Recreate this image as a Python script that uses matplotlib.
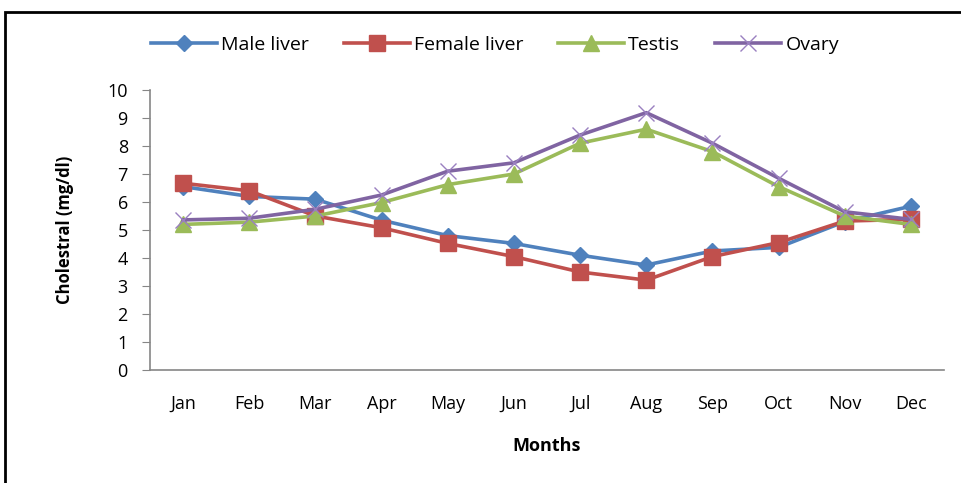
import matplotlib.pyplot as plt
from matplotlib.patches import Rectangle

# Données
months = ["Jan", "Feb", "Mar", "Apr", "May", "Jun", "Jul", "Aug", "Sep", "Oct", "Nov", "Dec"]
male_liver = [6.55, 6.2, 6.1, 5.35, 4.8, 4.52, 4.1, 3.75, 4.25, 4.38, 5.3, 5.85]
female_liver = [6.67, 6.4, 5.5, 5.08, 4.52, 4.05, 3.5, 3.21, 4.05, 4.55, 5.32, 5.38]
testis = [5.2, 5.28, 5.5, 5.98, 6.62, 7.0, 8.1, 8.6, 7.8, 6.55, 5.5, 5.2]
ovary = [5.36, 5.42, 5.74, 6.25, 7.1, 7.4, 8.39, 9.19, 8.1, 6.85, 5.65, 5.38]

plt.rcParams['font.family'] = ['Open Sans', 'DejaVu Sans']

fig = plt.figure(figsize=(9.61, 4.83), dpi=100)
ax = fig.add_axes([150 / 961, 1 - 370 / 483, 794 / 961, 280 / 483])

# cadre extérieur
fig.patches.append(Rectangle((5 / 961, -0.1), 1.1, 1 - 12 / 483 + 0.1, transform=fig.transFigure,
                             fill=False, edgecolor='black', linewidth=2))

x = range(len(months))
ax.plot(x, male_liver, color='#4F81BD', lw=2.6, marker='D', ms=8, label='Male liver')
ax.plot(x, female_liver, color='#C0504D', lw=2.6, marker='s', ms=11, label='Female liver')
ax.plot(x, testis, color='#9BBB59', lw=2.6, marker='^', ms=11, label='Testis')
ax.plot(x, ovary, color='#8064A2', lw=2.6, marker='x', ms=11, mew=1, mec='#9A80C0', label='Ovary')

ax.set_xlim(-0.5, len(months) - 0.5)
ax.set_ylim(0, 10)
ax.set_yticks(range(0, 11))
ax.set_xticks(list(x))
ax.set_xticklabels(months)
ax.tick_params(axis='y', length=6, color='#868686', labelsize=13, pad=10)
ax.tick_params(axis='x', length=0, labelsize=13, pad=18)

for s in ['top', 'right']:
    ax.spines[s].set_visible(False)
for s in ['left', 'bottom']:
    ax.spines[s].set_color('#868686')
    ax.spines[s].set_linewidth(1.2)

ax.set_xlabel('Months', fontsize=13, fontweight='bold', labelpad=17)
ax.set_ylabel('Cholestral (mg/dl)', fontsize=12, fontweight='bold', labelpad=24)

fig.legend(loc='center', bbox_to_anchor=(495 / 961, 1 - 45 / 483), ncol=4, frameon=False,
           fontsize=14, handlelength=3.4, columnspacing=1.8, handletextpad=0.2)

fig.savefig('out.png', dpi=100)
